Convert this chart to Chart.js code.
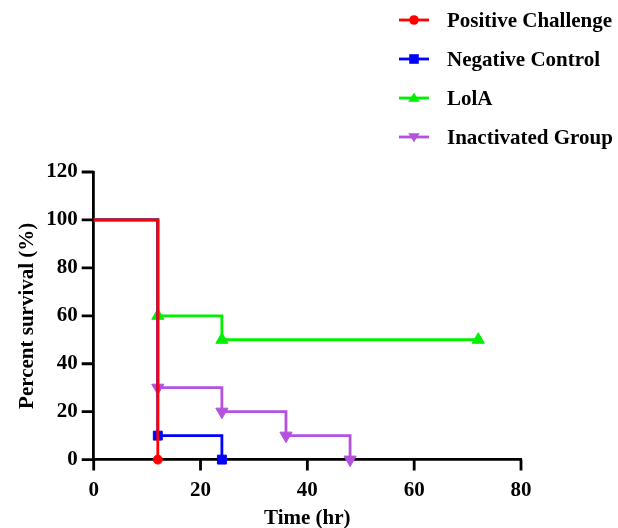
<!DOCTYPE html>
<html>
<head>
<meta charset="utf-8">
<script src="https://cdn.jsdelivr.net/npm/chart.js@4/dist/chart.umd.min.js"></script>
<style>
    html, body { margin: 0; padding: 0; background: #fff; }
    #wrap { width: 618px; height: 528px; }
</style>
</head>
<body>
<div id="wrap"><canvas id="survivalChart" width="618" height="528"></canvas></div>
<script>
// Series (time in hr, percent survival)
const seriesNames = ['Positive Challenge', 'Negative Control', 'LolA', 'Inactivated Group'];
const positiveTime = [0, 12];
const positiveSurvival = [100, 0];
const negativeTime = [0, 12, 24];
const negativeSurvival = [100, 10, 0];
const lolaTime = [0, 12, 24, 72];
const lolaSurvival = [100, 60, 50, 50];
const inactivatedTime = [0, 12, 24, 36, 48];
const inactivatedSurvival = [100, 30, 20, 10, 0];
const xTicks = [0, 20, 40, 60, 80];
const yTicks = [0, 20, 40, 60, 80, 100, 120];

const seriesColors = ['#ff0000', '#0000ff', '#00f000', '#b452de'];
const seriesMarkers = [
    { style: 'circle', rotation: 0, radius: 4.5 },
    { style: 'rect', rotation: 0, radius: 6.3 },
    { style: 'triangle', rotation: 0, radius: 7 },
    { style: 'triangle', rotation: 180, radius: 7 }
];

const FONT = "'Liberation Serif', 'Times New Roman', serif";

function toPoints(xs, ys) {
    return xs.map((x, i) => ({ x: x, y: ys[i] }));
}

function makeDataset(i, xs, ys) {
    return {
        label: seriesNames[i],
        data: toPoints(xs, ys),
        borderColor: seriesColors[i],
        backgroundColor: seriesColors[i],
        borderWidth: 2.8,
        stepped: true,
        pointStyle: seriesMarkers[i].style,
        rotation: seriesMarkers[i].rotation,
        // no marker on the starting point
        pointRadius: ctx => ctx.dataIndex === 0 ? 0 : seriesMarkers[i].radius,
        pointBorderWidth: 1,
        pointHoverRadius: 0,
        clip: false
    };
}

// Draw a small legend marker by hand
function drawMarker(ctx, style, rotation, x, y, r) {
    ctx.save();
    ctx.translate(x, y);
    ctx.rotate(rotation * Math.PI / 180);
    ctx.beginPath();
    if (style === 'circle') {
        ctx.arc(0, 0, r, 0, Math.PI * 2);
    } else if (style === 'rect') {
        ctx.rect(-r, -r, r * 2, r * 2);
    } else {
        ctx.moveTo(0, -r * 1.1);
        ctx.lineTo(r * 1.2, r * 0.8);
        ctx.lineTo(-r * 1.2, r * 0.8);
        ctx.closePath();
    }
    ctx.fill();
    ctx.restore();
}

// Legend: one entry per row, line + marker + label
const stackedLegend = {
    id: 'stackedLegend',
    afterDraw(chart) {
        const ctx = chart.ctx;
        const rows = [20, 59, 98, 137];
        ctx.save();
        chart.data.datasets.forEach((ds, i) => {
            const y = rows[i];
            ctx.strokeStyle = ds.borderColor;
            ctx.fillStyle = ds.borderColor;
            ctx.lineWidth = 2.8;
            ctx.beginPath();
            ctx.moveTo(399, y);
            ctx.lineTo(429, y);
            ctx.stroke();
            drawMarker(ctx, seriesMarkers[i].style, seriesMarkers[i].rotation, 414, y, 4.8);
            ctx.fillStyle = '#000';
            ctx.font = 'bold 21px ' + FONT;
            ctx.textBaseline = 'middle';
            ctx.textAlign = 'left';
            ctx.fillText(ds.label, 447, y + 2);
        });
        ctx.restore();
    }
};

// Outward tick marks on both axes, placed with the scales
const axisTicks = {
    id: 'axisTicks',
    afterDraw(chart) {
        const ctx = chart.ctx;
        const xs = chart.scales.x, ys = chart.scales.y;
        const area = chart.chartArea;
        ctx.save();
        ctx.strokeStyle = '#000';
        ctx.lineWidth = 2.8;
        ctx.lineCap = 'butt';
        ctx.beginPath();
        xTicks.forEach(v => {
            const px = xs.getPixelForValue(v);
            ctx.moveTo(px, area.bottom);
            ctx.lineTo(px, area.bottom + 11);
        });
        yTicks.forEach(v => {
            const py = ys.getPixelForValue(v);
            ctx.moveTo(area.left, py);
            ctx.lineTo(area.left - 12, py);
        });
        ctx.stroke();
        ctx.restore();
    }
};

function tickFont() {
    return { family: FONT, size: 21, weight: 'bold' };
}

new Chart(document.getElementById('survivalChart'), {
    type: 'line',
    data: {
        datasets: [
            makeDataset(0, positiveTime, positiveSurvival),
            makeDataset(1, negativeTime, negativeSurvival),
            makeDataset(2, lolaTime, lolaSurvival),
            makeDataset(3, inactivatedTime, inactivatedSurvival)
        ]
    },
    options: {
        responsive: false,
        animation: false,
        layout: { padding: { top: 172, right: 97, left: 15, bottom: -3 } },
        plugins: {
            legend: { display: false },
            tooltip: { enabled: false }
        },
        scales: {
            x: {
                type: 'linear',
                min: xTicks[0],
                max: xTicks[xTicks.length - 1],
                border: { display: true, color: '#000', width: 2.8 },
                grid: { display: false, drawTicks: false },
                afterBuildTicks: axis => { axis.ticks = xTicks.map(v => ({ value: v })); },
                ticks: { color: '#000', font: tickFont(), autoSkip: false, maxRotation: 0, padding: 18 },
                title: {
                    display: true,
                    text: 'Time (hr)',
                    color: '#000',
                    font: tickFont(),
                    padding: { top: -15, bottom: 0 }
                }
            },
            y: {
                type: 'linear',
                min: yTicks[0],
                max: yTicks[yTicks.length - 1],
                border: { display: true, color: '#000', width: 2.8 },
                grid: { display: false, drawTicks: false },
                afterBuildTicks: axis => { axis.ticks = yTicks.map(v => ({ value: v })); },
                ticks: { color: '#000', font: tickFont(), autoSkip: false, padding: 16 },
                title: {
                    display: true,
                    text: 'Percent survival (%)',
                    color: '#000',
                    font: tickFont(),
                    padding: { top: 0, bottom: -10 }
                }
            }
        }
    },
    plugins: [stackedLegend, axisTicks]
});
</script>
</body>
</html>
